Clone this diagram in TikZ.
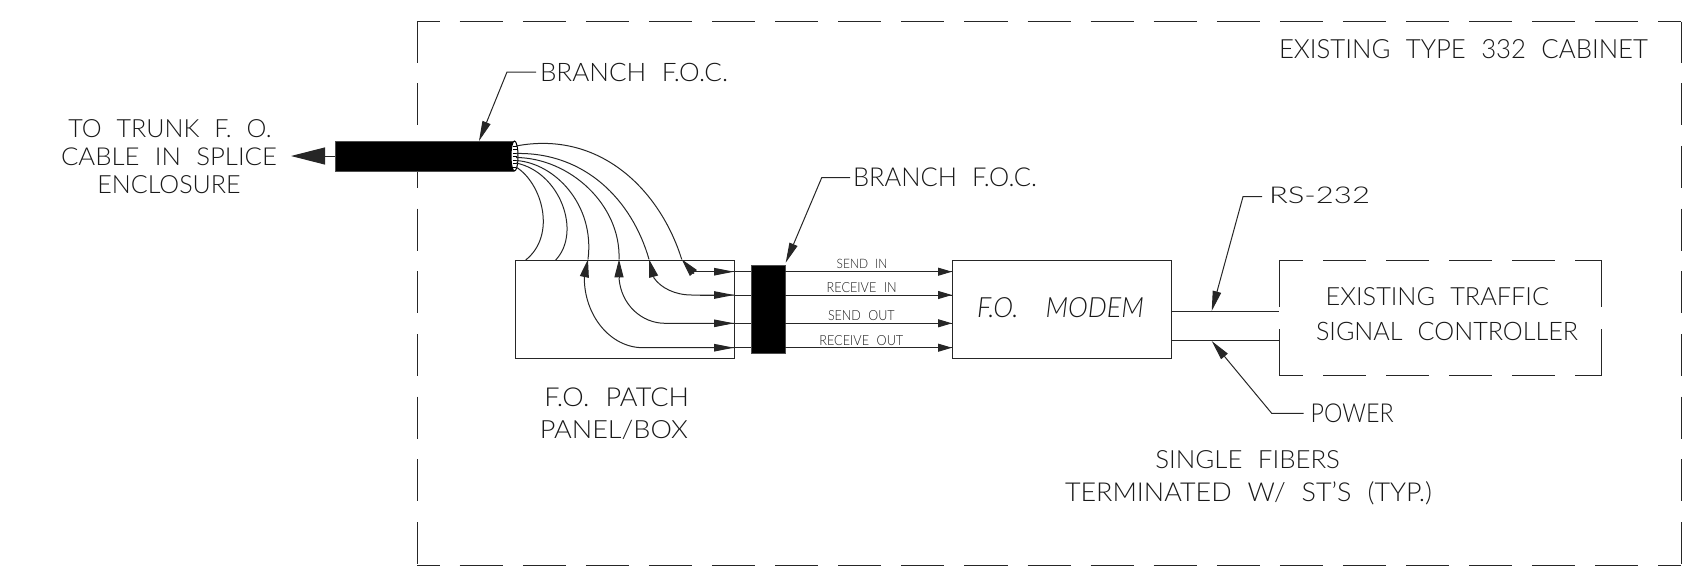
\documentclass[tikz,border=0pt]{standalone}
\usepackage{graphicx}
\usepackage{fontspec}
\setmainfont{Lato}[UprightFont=* Light, ItalicFont=* Light Italic, WordSpace=2.2]
\usetikzlibrary{arrows.meta,shapes.geometric}
\newcommand{\fitt}[3]{\resizebox{#1pt}{#2pt}{\rule{0pt}{7.17pt}\smash{#3}}}
\tikzset{
  ln/.style={line width=1pt,draw=black!85},
  lbl/.style={inner sep=0pt,outer sep=0pt,anchor=base west,text=black!90},
  boxn/.style={ln,inner sep=0pt,outer sep=0pt,anchor=north west},
  solidn/.style={inner sep=0pt,outer sep=0pt,anchor=north west,fill=black,draw=black!70,line width=.6pt},
  bigdash/.style={line width=1pt,draw=black!85,dash pattern=on 43.09pt off 20pt,dash phase=20.4pt},
  vdash/.style={line width=1pt,draw=black!85,dash pattern=on 42pt off 20.7pt,dash phase=1pt},
  ctop/.style={line width=1pt,draw=black!85,dash pattern=on 43pt off 20pt,dash phase=19pt},
  cside/.style={line width=1pt,draw=black!85,dash pattern=on 47pt off 22pt},
  tipa/.style={-{Triangle[length=14pt,width=8pt]}},
  tipb/.style={-{Triangle[length=20pt,width=8.5pt]}},
  tipc/.style={-{Triangle[length=18pt,width=9pt]}},
  tipd/.style={-{Triangle[length=20pt,width=7.5pt]}},
  tipe/.style={-{Triangle[length=34pt,width=17pt]}},
}
\begin{document}
\begin{tikzpicture}[x=1pt,y=-1pt]
\useasboundingbox (0,0) rectangle (1698,571);
% cabinet outline
\coordinate (ctl) at (417,21.5);
\coordinate (ctr) at (1681,21.5);
\coordinate (cbl) at (417,565);
\coordinate (cbr) at (1681,565);
\draw[bigdash] (ctl) -- (ctr);
\draw[bigdash] (cbl) -- (cbr);
\draw[vdash] (ctl) -- (cbl);
\draw[vdash] (ctr) -- (cbr);
% main boxes
\node[boxn,minimum width=219pt,minimum height=98pt] (patch) at (515,260) {};
\node[boxn,minimum width=219pt,minimum height=98pt] (modem) at (952,260) {};
\node[solidn,minimum width=34pt,minimum height=88pt] (block) at (751,265) {};
\node[solidn,minimum width=178pt,minimum height=30pt] (cable) at (335,141) {};
% trunk arrow
\coordinate (trunktip) at (291,156);
\draw[ln,tipe] (cable.west) -- (trunktip);
% cable end
\node[ellipse,draw=black,fill=white,line width=1pt,minimum width=7pt,minimum height=30pt,inner sep=0pt] (cend) at (514.5,156) {};
\foreach \yy in {146,149.5,153,156.5,160,163.5,167}{\draw[line width=.6pt,black] (512.5,\yy) -- (517,\yy);}
% fan of fibres
\coordinate (f1) at (525.7,260);
\coordinate (f2) at (555.7,260);
\coordinate (f3) at (588,259.3);
\coordinate (f4) at (619,259.3);
\coordinate (f5) at (649,259.3);
\coordinate (f6) at (681.7,259.3);
\draw[ln] (516,167) .. controls (542,183) and (557,235) .. (f1);
\draw[ln] (516,163) .. controls (560,172) and (582,232) .. (f2);
\draw[ln] (516,160.5) .. controls (555,163) and (595,205) .. (f3);
\draw[ln] (516,157.5) .. controls (570,158) and (621,205) .. (f4);
\draw[ln] (516,153.5) .. controls (585,152) and (632,200) .. (f5);
\draw[ln] (516,146) .. controls (600,130) and (660,190) .. (f6);
% wire levels
\coordinate (y1) at (0,271.7);
\coordinate (y2) at (0,295);
\coordinate (y3) at (0,323.3);
\coordinate (y4) at (0,347.7);
% inner arrows from the fan ends
\draw[ln,tipc] (694,273.7) -- (f6);
\draw[ln,tipc] (654,278) -- (f5);
\draw[ln,tipc] (619,278) -- (f4);
\draw[ln,tipc] (584.3,277) -- (f3);
% inner wires
\draw[ln] (694,271.7) -- (patch.east |- y1);
\draw[ln] (654,278) .. controls (661,288) and (675,295) .. (691.7,295) -- (patch.east |- y2);
\draw[ln] (619,278) .. controls (621,305) and (642,323.3) .. (665,323.3) -- (patch.east |- y3);
\draw[ln] (584.3,277) .. controls (584,315) and (610,347.7) .. (643,347.7) -- (patch.east |- y4);
\foreach \w in {y1,y2,y3,y4}{
  \draw[ln,tipd] (700,0 |- \w) -- (patch.east |- \w);
  \draw[ln] (patch.east |- \w) -- (block.west |- \w);
  \draw[ln] (block.east |- \w) -- (modem.west |- \w);
  \draw[ln,tipa] (920,0 |- \w) -- (modem.west |- \w);
}
% controller
\coordinate (k1) at (1279.3,260);
\coordinate (k2) at (1601.7,260);
\coordinate (k3) at (1279.3,375.7);
\coordinate (k4) at (1601.7,375.7);
\draw[ctop] (k1) -- (k2);
\draw[ctop] (k3) -- (k4);
\draw[cside] (k1) -- (k3);
\draw[cside] (k2) -- (k4);
\coordinate (rs) at (1279.3,311.7);
\coordinate (pw) at (1279.3,340.7);
\draw[ln] (modem.east |- rs) -- (rs);
\draw[ln] (modem.east |- pw) -- (pw);
% leaders
\coordinate (l1e) at (507,72);
\coordinate (l1t) at (479,141);
\coordinate (l2e) at (821.7,177.7);
\coordinate (l2t) at (785.7,262.7);
\coordinate (l3e) at (1243,196.7);
\coordinate (l3t) at (1211.7,311);
\coordinate (l4e) at (1271.7,413.3);
\coordinate (l4t) at (1211.7,341);
% labels
\node[lbl] (tcab) at (1279,58.3) {\fitt{369}{19}{EXISTING TYPE 332 CABINET}};
\node[lbl] (tbr1) at (540,81) {\fitt{188}{18.3}{BRANCH F.O.C.}};
\node[lbl] (tbr2) at (853,186.7) {\fitt{184}{18.7}{BRANCH F.O.C.}};
\node[lbl] (trs) at (1269,203.3) {\fitt{101}{16.6}{RS-232}};
\node[lbl] (tpw) at (1310.6,422.7) {\fitt{83}{18.7}{POWER}};
\node[lbl] (tt1) at (68.3,137.3) {\fitt{203.4}{18}{TO TRUNK F. O.}};
\node[lbl] (tt2) at (61,165) {\fitt{216}{17.7}{CABLE IN SPLICE}};
\node[lbl] (tt3) at (97.3,193) {\fitt{143.4}{18}{ENCLOSURE}};
\node[lbl] (tp1) at (544.4,406.7) {\fitt{144.6}{18.7}{F.O. PATCH}};
\node[lbl] (tp2) at (539.8,438) {\fitt{148.2}{18}{PANEL/BOX}};
\node[lbl] (ts1) at (1155.4,468) {\fitt{184.6}{18}{SINGLE FIBERS}};
\node[lbl] (ts2) at (1065,501.7) {\fitt{367}{18.7}{TERMINATED W/ ST'S (TYP.)}};
\node[lbl] (tc1) at (1325.7,305) {\fitt{223.3}{18}{EXISTING TRAFFIC}};
\node[lbl] (tc2) at (1316,340) {\fitt{262}{18.3}{SIGNAL CONTROLLER}};
\node[lbl] (tm) at (977,317) {\fitt{167}{20}{\itshape F.O.\hspace{.45em} MODEM}};
\node[lbl] (ws1) at (836.7,268.3) {\fitt{50.6}{9.3}{SEND IN}};
\node[lbl] (ws2) at (826.7,292.3) {\fitt{70}{10}{RECEIVE IN}};
\node[lbl] (ws3) at (828,320) {\fitt{66.7}{10}{SEND OUT}};
\node[lbl] (ws4) at (819.3,345) {\fitt{84}{10}{RECEIVE OUT}};
% leader lines
\draw[ln,tipb] (tbr1.base west |- l1e) ++(-4,0) -- (l1e) -- (l1t);
\draw[ln,tipb] (tbr2.base west |- l2e) ++(-3,0) -- (l2e) -- (l2t);
\draw[ln,tipb] (trs.base west |- l3e) ++(-7,0) -- (l3e) -- (l3t);
\draw[ln,tipb] (tpw.base west |- l4e) ++(-7,0) -- (l4e) -- (l4t);
\end{tikzpicture}
\end{document}
